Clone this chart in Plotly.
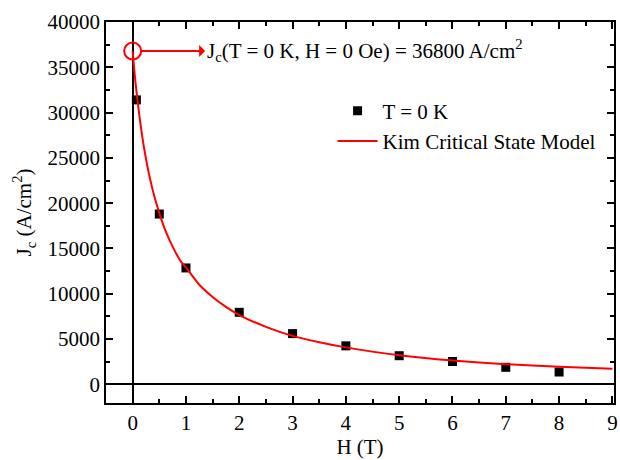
import plotly.graph_objects as go

# Measured data (T = 0 K)
H_data = [0.07, 0.5, 1, 2, 3, 4, 5, 6, 7, 8]
Jc_data = [31400, 18800, 12850, 7950, 5600, 4250, 3160, 2520, 1880, 1360]

# Kim critical state model curve
H_fit = [0, 0.02, 0.05, 0.1, 0.15, 0.2, 0.25, 0.3, 0.4, 0.5, 0.6, 0.75, 0.9, 1,
         1.25, 1.5, 1.75, 2, 2.5, 3, 3.5, 4, 5, 6, 7, 8, 9]
Jc_fit = [36800, 35400, 33500, 30900, 28600, 26600, 24900, 23400, 20900, 18900,
          17200, 15200, 13600, 12900, 11000, 9650, 8550, 7650, 6350, 5350, 4650,
          4080, 3200, 2620, 2220, 1950, 1730]

Jc0_H = [0]
Jc0 = [36800]

x_ticks = [0, 1, 2, 3, 4, 5, 6, 7, 8, 9]
y_ticks = [0, 5000, 10000, 15000, 20000, 25000, 30000, 35000, 40000]

FONT = "Liberation Serif"

fig = go.Figure()
fig.add_trace(go.Scatter(
    x=H_data, y=Jc_data, mode="markers", name="T = 0 K",
    marker=dict(symbol="square", size=9, color="black")))
fig.add_trace(go.Scatter(
    x=H_fit, y=Jc_fit, mode="lines", name="Kim Critical State Model",
    line=dict(color="red", width=2, shape="spline", smoothing=0.5)))
fig.add_trace(go.Scatter(
    x=Jc0_H, y=Jc0, mode="markers", showlegend=False,
    marker=dict(symbol="circle-open", size=17, color="red", line=dict(width=2, color="red"))))

fig.add_annotation(
    x=Jc0_H[0], y=Jc0[0], xref="x", yref="y",
    ax=1.36, ay=Jc0[0], axref="x", ayref="y",
    text="J<sub>c</sub>(T = 0 K, H = 0 Oe) = 36800 A/cm<sup>2</sup>",
    xanchor="left", yanchor="middle",
    showarrow=True, arrowside="start", arrowhead=2, arrowsize=1.2,
    arrowwidth=2, arrowcolor="red", standoff=9, startstandoff=0,
    font=dict(family=FONT, size=21, color="black"))

axis_common = dict(
    showline=True, linecolor="black", linewidth=1.5, mirror="ticks",
    ticks="inside", ticklen=7, tickwidth=1.5, tickcolor="black",
    showgrid=False, zeroline=True, zerolinecolor="black", zerolinewidth=1.5,
    tickfont=dict(family=FONT, size=21, color="black"),
)

fig.update_xaxes(
    range=[-0.5, 9.03], tickvals=x_ticks,
    minor=dict(ticks="inside", ticklen=4, tickwidth=1.5, tickcolor="black", dtick=0.5, tick0=0.5),
    title=dict(text="H (T)", font=dict(family=FONT, size=21, color="black"), standoff=2),
    **axis_common)
fig.update_yaxes(
    range=[-2060, 40000], tickvals=y_ticks, tickformat="d",
    minor=dict(ticks="inside", ticklen=4, tickwidth=1.5, tickcolor="black", dtick=2500, tick0=2500),
    title=dict(text="J<sub>c</sub> (A/cm<sup>2</sup>)", font=dict(family=FONT, size=21, color="black"), standoff=10),
    **axis_common)

fig.update_layout(
    width=620, height=460,
    margin=dict(l=106, r=2, t=22, b=57),
    paper_bgcolor="white", plot_bgcolor="white",
    font=dict(family=FONT, size=21, color="black"),
    legend=dict(x=0.446, y=0.82, xanchor="left", yanchor="top",
                bgcolor="rgba(0,0,0,0)", font=dict(family=FONT, size=21, color="black"),
                itemwidth=40, tracegroupgap=0),
)

fig.write_html("out.html")
